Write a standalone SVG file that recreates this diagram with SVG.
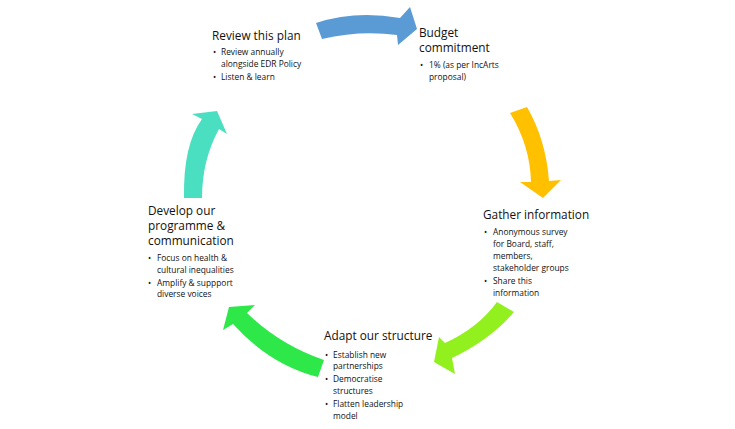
<svg xmlns="http://www.w3.org/2000/svg" width="735" height="429" viewBox="0 0 735 429">
<style>
text{font-family:"Open Sans","Liberation Sans",sans-serif;fill:#111}
.t{font-size:11.8px}
.b{font-size:8.4px}
</style>
<rect width="735" height="429" fill="#fff"/>
<g id="connectors">
<path d="M316,23 Q355,10 400,18 L410,7 L417,29 L398,45 L397,35 Q360,30 322,39 Z" fill="#5B9BD5"/>
<path d="M510,113 Q530,145 531,182 L520,182 L543,198 L561,180 L549,181 Q546,140 527,107 Z" fill="#FFC000"/>
<path d="M497,302 Q478,328 445,343 L439,337 L434,362 L455,374 L452,358 Q490,340 514,312 Z" fill="#92F01E"/>
<path d="M229,307 L255,305 L247,313 Q280,345 324,360 L318,377 Q270,365 233,324 L223,330 Z" fill="#2EE84A"/>
<path d="M184,198 Q183,145 202,119 L192,114 L217,111 L227,134 L219,129 Q202,160 202,198 Z" fill="#4ADFC0"/>
</g>
<g id="review">
<text class="t" x="212" y="40">Review this plan</text>
<text class="b" x="213" y="55">•</text><text class="b" x="221" y="55">Review annually</text>
<text class="b" x="221" y="67">alongside EDR Policy</text>
<text class="b" x="213" y="80">•</text><text class="b" x="221" y="80">Listen &amp; learn</text>
</g>
<g id="budget">
<text class="t" x="419" y="37">Budget</text>
<text class="t" x="419" y="52">commitment</text>
<text class="b" x="420" y="68">•</text><text class="b" x="429" y="68">1% (as per IncArts</text>
<text class="b" x="429" y="80">proposal)</text>
</g>
<g id="gather">
<text class="t" x="483" y="219">Gather information</text>
<text class="b" x="484" y="235">•</text><text class="b" x="493" y="235">Anonymous survey</text>
<text class="b" x="493" y="247">for Board, staff,</text>
<text class="b" x="493" y="259">members,</text>
<text class="b" x="493" y="271">stakeholder groups</text>
<text class="b" x="484" y="284">•</text><text class="b" x="493" y="284">Share this</text>
<text class="b" x="493" y="296">information</text>
</g>
<g id="adapt">
<text class="t" x="324" y="340">Adapt our structure</text>
<text class="b" x="325" y="358">•</text><text class="b" x="333" y="358">Establish new</text>
<text class="b" x="333" y="369">partnerships</text>
<text class="b" x="325" y="382">•</text><text class="b" x="333" y="382">Democratise</text>
<text class="b" x="333" y="394">structures</text>
<text class="b" x="325" y="407">•</text><text class="b" x="333" y="407">Flatten leadership</text>
<text class="b" x="333" y="419">model</text>
</g>
<g id="develop">
<text class="t" x="148" y="215">Develop our</text>
<text class="t" x="148" y="230">programme &amp;</text>
<text class="t" x="148" y="245">communication</text>
<text class="b" x="148" y="261">•</text><text class="b" x="157" y="261">Focus on health &amp;</text>
<text class="b" x="157" y="273">cultural inequalities</text>
<text class="b" x="148" y="286">•</text><text class="b" x="157" y="286">Amplify &amp; suppport</text>
<text class="b" x="157" y="297">diverse voices</text>
</g>
</svg>
